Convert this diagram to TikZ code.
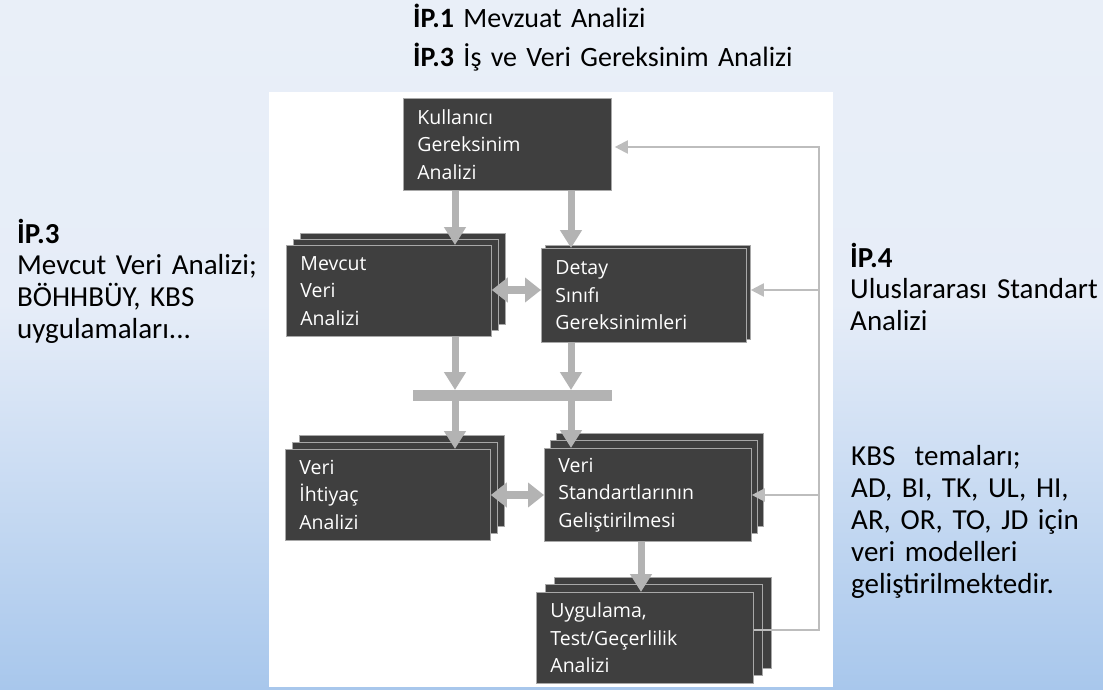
\documentclass[tikz,border=0pt]{standalone}
\usepackage{fontspec}
\setmainfont{Carlito}
\newfontfamily\boxfont{Open Sans}
\usetikzlibrary{arrows.meta}

\definecolor{bgtop}{HTML}{E9EFF8}
\definecolor{bgmid}{HTML}{E6EDF8}
\definecolor{bgbot}{HTML}{A8C7EC}
\definecolor{boxfill}{HTML}{3F3F3F}
\definecolor{boxedge}{HTML}{A8A8A8}
\definecolor{flow}{HTML}{B3B3B3}
\definecolor{backcol}{HTML}{BDBDBD}

% page shading: flat pale blue in the upper part, deepening towards the bottom
% (the middle 50bp of the 100bp shading span the filled path)
\pgfdeclareverticalshading{pagebg}{100bp}{%
  color(0bp)=(bgbot); color(25bp)=(bgbot); color(53bp)=(bgmid);
  color(75bp)=(bgtop); color(100bp)=(bgtop)}

\tikzset{
  layer/.style={anchor=north west, fill=boxfill, draw=boxedge, line width=0.8pt, inner sep=0pt},
  stepbox/.style={layer, text=white, font=\boxfont\fontsize{19.5}{27.5}\selectfont,
    align=left, inner xsep=14pt, inner ysep=0pt},
  flowarrow/.style={draw=flow, line width=7pt, -{Triangle[width=21pt,length=18pt]}},
  twoway/.style={draw=flow, line width=8pt,
    {Triangle[width=24pt,length=16pt]}-{Triangle[width=24pt,length=16pt]}},
  backline/.style={draw=backcol, line width=2pt, -{Triangle[width=13pt,length=13pt]}},
  note/.style={anchor=base west, inner sep=0pt, align=left, text=black},
}

\begin{document}
\begin{tikzpicture}[x=1pt,y=-1pt]
  \useasboundingbox (0,0) rectangle (1103,690);
  % page background and the white panel behind the flow chart
  \shade[shading=pagebg] (0,0) rectangle (1103,690);
  \fill[white] (269,92) rectangle (833,687);

  % Kullanici Gereksinim Analizi
  \node[stepbox, text width=180pt, minimum height=92pt] (kul) at (403,98)
    {Kullanıcı\\Gereksinim\\Analizi};

  % Mevcut Veri Analizi (stacked)
  \node[layer, minimum width=205pt, minimum height=91pt] (mev-b2) at (300,233) {};
  \node[layer, minimum width=205pt, minimum height=91pt] (mev-b1) at (293,239) {};
  \node[stepbox, text width=177pt, minimum height=91pt] (mev) at (286,245)
    {Mevcut\\Veri\\Analizi};

  % Detay Sinifi Gereksinimleri
  \node[layer, minimum width=205pt, minimum height=94pt] (det-b1) at (545,245) {};
  \node[stepbox, text width=177pt, minimum height=94pt] (det) at (541,248)
    {Detay\\Sınıfı\\Gereksinimleri};

  % joining bar
  \node[anchor=north west, fill=flow, inner sep=0pt, minimum width=199pt, minimum height=11pt] (bar) at (413,390) {};

  % Veri Ihtiyac Analizi (stacked)
  \node[layer, minimum width=205pt, minimum height=91pt] (vih-b2) at (299,435) {};
  \node[layer, minimum width=205pt, minimum height=91pt] (vih-b1) at (292,442) {};
  \node[stepbox, text width=177pt, minimum height=91pt] (vih) at (285,449)
    {Veri\\İhtiyaç\\Analizi};

  % Veri Standartlarinin Gelistirilmesi (stacked)
  \node[layer, minimum width=207pt, minimum height=93pt] (vst-b2) at (556,433) {};
  \node[layer, minimum width=207pt, minimum height=93pt] (vst-b1) at (550,440) {};
  \node[stepbox, text width=179pt, minimum height=93pt] (vst) at (544,448)
    {Veri\\Standartlarının\\Geliştirilmesi};

  % Uygulama, Test/Gecerlilik Analizi (stacked)
  \node[layer, minimum width=217pt, minimum height=91pt] (uyg-b2) at (554,577) {};
  \node[layer, minimum width=217pt, minimum height=91pt] (uyg-b1) at (545,584) {};
  \node[stepbox, text width=189pt, minimum height=91pt] (uyg) at (536,592)
    {Uygulama,\\Test/Geçerlilik\\Analizi};

  % columns and rows used by the connectors
  \coordinate (colA) at (455,0);
  \coordinate (colB) at (571,0);
  \coordinate (colC) at (641,0);
  \coordinate (rowA) at (0,290);
  \coordinate (rowB) at (0,495);
  \coordinate (fbtop) at (819,147);
  \coordinate (fbbot) at (819,630);
  \coordinate (fbd) at (819,290);
  \coordinate (fbv) at (819,495);

  % main flow
  \draw[flowarrow] (kul.south -| colA) -- (mev.north -| colA);
  \draw[flowarrow] (kul.south -| colB) -- (det.north -| colB);
  \draw[flowarrow] (mev.south -| colA) -- (bar.north -| colA);
  \draw[flowarrow] (det.south -| colB) -- (bar.north -| colB);
  \draw[flowarrow] (bar.south -| colA) -- (vih.north -| colA);
  \draw[flowarrow] (bar.south -| colB) -- (vst.north -| colB);
  \draw[flowarrow] (vst.south -| colC) -- (uyg.north -| colC);
  \draw[twoway] (mev.east |- rowA) -- (det.west |- rowA);
  \draw[twoway] (vih.east |- rowB) -- (vst.west |- rowB);

  % feedback from testing back to the earlier steps
  \draw[backline, shorten >=3pt] (uyg.east |- fbbot) -- (fbbot) -- (fbtop) -- (kul.east |- fbtop);
  \draw[backline] (fbd) -- (det-b1.east |- fbd);
  \draw[backline] (fbv) -- (vst.east |- fbv);

  % surrounding notes
  \node[note, text width=420pt, font=\fontsize{28}{38.5}\selectfont] (ntop) at (413,28)
    {\textbf{İP.1} Mevzuat Analizi\\\textbf{İP.3} İş ve Veri Gereksinim Analizi};
  \node[note, text width=250pt, font=\fontsize{29}{31.7}\selectfont] (nleft) at (17,243)
    {\textbf{İP.3}\\Mevcut Veri Analizi;\\BÖHHBÜY, KBS\\uygulamaları...};
  \node[note, text width=250pt, font=\fontsize{29}{31.7}\selectfont] (nright) at (850,267)
    {\textbf{İP.4}\\Uluslararası Standart\\Analizi};
  \node[note, text width=250pt, font=\fontsize{29}{32}\selectfont] (nkbs) at (851,465)
    {KBS\ \ temaları;\\AD, BI, TK, UL, HI,\\AR, OR, TO, JD için\\veri modelleri\\geliştirilmektedir.};
\end{tikzpicture}
\end{document}
